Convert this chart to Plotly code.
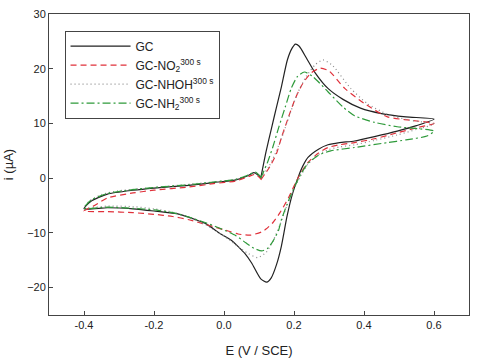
import plotly.graph_objects as go

# GC (solid black)
gc_E = [0.105, 0.12, 0.136, 0.15, 0.164, 0.181, 0.195, 0.204, 0.215, 0.235, 0.26, 0.297, 0.34, 0.39, 0.45, 0.52, 0.6,
        0.55, 0.495, 0.43, 0.373, 0.33, 0.297, 0.27, 0.24, 0.225, 0.212, 0.195, 0.18, 0.164, 0.15, 0.135, 0.122, 0.105,
        0.079, 0.06, 0.042, 0.02, -0.014, -0.05, -0.08, -0.127, -0.2, -0.26, -0.333, -0.4,
        -0.38, -0.333, -0.26, -0.2, -0.1, -0.03, 0.034, 0.07, 0.085, 0.105]
gc_i = [0.0, 4.8, 9.2, 13.0, 16.7, 21.6, 23.8, 24.5, 24.1, 22.0, 19.3, 16.4, 14.4, 12.8, 11.8, 11.2, 10.8,
        9.6, 8.6, 7.6, 6.8, 6.5, 6.1, 5.3, 3.8, 2.2, 0.2, -3.0, -7.0, -12.4, -15.8, -18.2, -19.0, -18.4,
        -15.5, -13.8, -12.6, -11.3, -10.0, -8.4, -7.6, -6.6, -6.0, -5.6, -5.4, -5.6,
        -4.2, -2.9, -2.2, -1.8, -1.3, -0.8, -0.3, 0.5, 1.0, 0.2]

# GC-NO2 (red dashed)
no2_E = [0.105, 0.13, 0.15, 0.164, 0.185, 0.204, 0.225, 0.25, 0.275, 0.3, 0.345, 0.4, 0.467, 0.53, 0.6,
         0.55, 0.495, 0.43, 0.373, 0.33, 0.297, 0.27, 0.24, 0.22, 0.204, 0.185, 0.16, 0.14, 0.12, 0.108,
         0.076, 0.04, 0.014, -0.05, -0.1, -0.147, -0.2, -0.26, -0.333, -0.4,
         -0.37, -0.333, -0.26, -0.2, -0.1, -0.03, 0.034, 0.07, 0.09, 0.105]
no2_i = [-0.3, 2.0, 4.5, 7.4, 11.3, 14.6, 17.3, 19.3, 20.1, 19.6, 16.4, 13.7, 11.2, 10.6, 10.0,
         9.2, 8.3, 7.2, 6.5, 6.1, 5.6, 4.6, 2.9, 1.0, -0.9, -3.5, -6.3, -8.1, -9.3, -9.8,
         -10.4, -10.2, -9.7, -8.5, -7.6, -7.0, -6.6, -6.3, -6.1, -6.0,
         -5.0, -3.6, -2.7, -2.2, -1.6, -1.0, -0.5, 0.3, 0.7, -0.1]

# GC-NHOH (grey dotted)
nhoh_E = [0.105, 0.13, 0.15, 0.17, 0.19, 0.21, 0.235, 0.26, 0.283, 0.31, 0.362, 0.41, 0.47, 0.53, 0.6,
          0.55, 0.495, 0.43, 0.373, 0.33, 0.297, 0.27, 0.24, 0.22, 0.2, 0.18, 0.16, 0.14, 0.12, 0.096,
          0.07, 0.04, 0.014, -0.05, -0.1, -0.147, -0.2, -0.26, -0.333, -0.4,
          -0.385, -0.35, -0.3, -0.2, -0.1, -0.03, 0.034, 0.07, 0.09, 0.105]
nhoh_i = [0.0, 2.3, 5.0, 8.3, 12.0, 15.5, 18.6, 20.7, 21.6, 20.6, 16.4, 13.6, 11.6, 10.6, 9.9,
          8.9, 7.9, 6.9, 6.1, 5.7, 5.2, 4.3, 2.6, 0.5, -2.0, -5.0, -8.5, -11.5, -13.6, -14.5,
          -13.8, -12.5, -11.2, -8.6, -7.2, -6.2, -5.6, -5.2, -5.1, -5.4,
          -4.2, -3.0, -2.3, -1.7, -1.1, -0.7, -0.2, 0.6, 1.0, 0.2]

# GC-NH2 (green dash-dot)
nh2_E = [0.105, 0.125, 0.14, 0.156, 0.175, 0.192, 0.21, 0.23, 0.255, 0.297, 0.34, 0.373, 0.43, 0.495, 0.6,
         0.58, 0.52, 0.467, 0.373, 0.305, 0.27, 0.24, 0.22, 0.2, 0.18, 0.164, 0.156, 0.14, 0.125, 0.108,
         0.085, 0.062, 0.034, -0.006, -0.05, -0.1, -0.147, -0.2, -0.26, -0.333, -0.4,
         -0.38, -0.333, -0.26, -0.2, -0.1, -0.03, 0.034, 0.07, 0.09, 0.105]
nh2_i = [0.0, 3.0, 5.8, 9.2, 13.0, 16.4, 18.6, 19.4, 18.5, 15.8, 13.0, 11.4, 10.2, 9.4, 8.6,
         7.7, 7.0, 6.5, 5.6, 5.0, 4.2, 2.7, 0.8, -1.8, -4.8, -7.6, -9.5, -11.5, -12.8, -13.3,
         -12.8, -11.8, -10.5, -9.3, -8.2, -7.1, -6.3, -5.8, -5.5, -5.3, -5.5,
         -4.0, -2.8, -2.1, -1.7, -1.2, -0.7, -0.2, 0.6, 1.1, 0.2]

names = ["GC", "GC-NO<sub>2</sub><sup>300 s</sup>", "GC-NHOH<sup>300 s</sup>", "GC-NH<sub>2</sub><sup>300 s</sup>"]
x_ticks = [-0.4, -0.2, 0.0, 0.2, 0.4, 0.6]
x_labels = ["-0.4", "-0.2", "0.0", "0.2", "0.4", "0.6"]
y_ticks = [-20, -10, 0, 10, 20, 30]

fig = go.Figure()
fig.add_trace(go.Scatter(x=gc_E, y=gc_i, mode="lines", name=names[0],
                         line=dict(color="#222222", width=1.2, shape="spline", smoothing=0.6)))
fig.add_trace(go.Scatter(x=no2_E, y=no2_i, mode="lines", name=names[1],
                         line=dict(color="#e0303a", width=1.2, dash="6px,4px", shape="spline", smoothing=0.6)))
fig.add_trace(go.Scatter(x=nhoh_E, y=nhoh_i, mode="lines", name=names[2],
                         line=dict(color="#8a8a8a", width=1.2, dash="1px,3px", shape="spline", smoothing=0.6)))
fig.add_trace(go.Scatter(x=nh2_E, y=nh2_i, mode="lines", name=names[3],
                         line=dict(color="#2e9a3a", width=1.2, dash="8px,3px,2px,3px", shape="spline", smoothing=0.6)))

axis_common = dict(showline=True, linecolor="#444444", linewidth=1, mirror=True,
                   ticks="inside", ticklen=4, tickcolor="#444444", showgrid=False, zeroline=False,
                   tickfont=dict(family="Liberation Sans, Arial", size=11, color="#222222"))
fig.update_xaxes(range=[-0.5, 0.7], tickvals=x_ticks, ticktext=x_labels,
                 title=dict(text="E (V / SCE)", font=dict(family="Liberation Sans, Arial", size=13, color="#222222"),
                            standoff=15), **axis_common)
fig.update_yaxes(range=[-25, 30], tickvals=y_ticks,
                 title=dict(text="i (µA)", font=dict(family="Liberation Sans, Arial", size=13, color="#222222"),
                            standoff=10), **axis_common)

fig.update_layout(
    width=478, height=363, margin=dict(l=48, r=8, t=11, b=46),
    paper_bgcolor="white", plot_bgcolor="white",
    font=dict(family="Liberation Sans, Arial", size=12, color="#222222"),
    legend=dict(x=0.037, y=0.945, xanchor="left", yanchor="top", bgcolor="white",
                bordercolor="#444444", borderwidth=1, tracegroupgap=0, itemwidth=60,
                font=dict(family="Liberation Sans, Arial", size=12, color="#222222")),
)

fig.write_html("out.html")
